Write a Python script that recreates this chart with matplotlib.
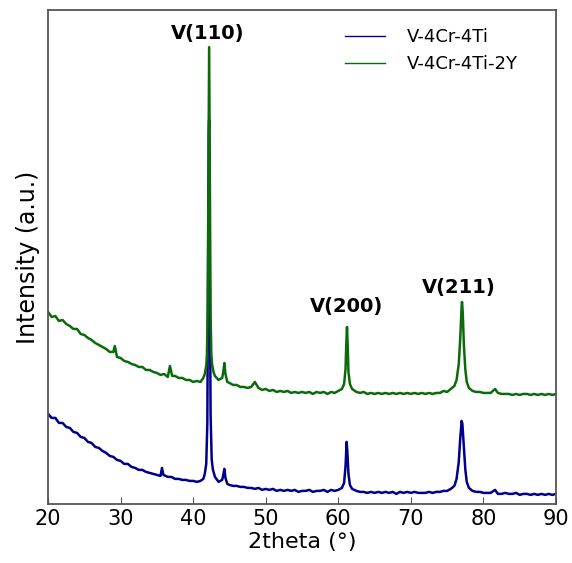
import matplotlib
matplotlib.use('Agg')
import matplotlib.pyplot as plt

# V-4Cr-4Ti (lower trace)
two_theta_ti = [20.0, 20.5, 21.0, 21.5, 22.0, 22.5, 23.0, 23.5, 24.0, 24.5, 25.0, 25.5, 26.0, 26.5,
                27.0, 27.5, 28.0, 28.5, 29.0, 29.5, 30.0, 30.5, 31.0, 31.5, 32.0, 32.5, 33.0, 33.5,
                34.0, 34.5, 35.0, 35.5, 35.7, 35.9, 36.5, 37.0, 37.5, 38.0, 38.5, 39.0, 39.5, 40.0,
                40.5, 41.0, 41.4, 41.6, 41.8, 41.95, 42.05, 42.15, 42.2, 42.3, 42.4, 42.55, 42.7,
                43.0, 43.5, 44.0, 44.15, 44.3, 44.45, 44.7, 45.0, 45.5, 46.0, 46.5, 47.0, 47.5,
                48.0, 48.5, 49.0, 49.5, 50.0, 50.5, 51.0, 51.5, 52.0, 52.5, 53.0, 53.5, 54.0, 54.5,
                55.0, 55.5, 56.0, 56.5, 57.0, 57.5, 58.0, 58.5, 59.0, 59.5, 60.0, 60.5, 60.8, 61.0,
                61.1, 61.15, 61.25, 61.4, 61.6, 61.9, 62.5, 63.0, 63.5, 64.0, 64.5, 65.0, 65.5,
                66.0, 66.5, 67.0, 67.5, 68.0, 68.5, 69.0, 69.5, 70.0, 70.5, 71.0, 71.5, 72.0, 72.5,
                73.0, 73.5, 74.0, 74.5, 75.0, 75.5, 76.0, 76.3, 76.6, 76.8, 77.0, 77.1, 77.3, 77.5,
                77.7, 78.0, 78.5, 79.0, 79.5, 80.0, 80.5, 81.0, 81.6, 82.0, 82.5, 83.0, 83.5, 84.0,
                84.5, 85.0, 85.5, 86.0, 86.5, 87.0, 87.5, 88.0, 88.5, 89.0, 89.5, 90.0]
counts_ti = [90, 86, 86, 81, 81, 77, 76, 72, 71, 67, 66, 62, 61, 57,
             56, 53, 51, 48, 47, 44, 43, 40, 40, 37, 36, 34, 34, 32,
             31, 30, 29, 28, 36, 29, 27, 27, 25, 25, 24, 24, 23, 23,
             22, 23, 25, 30, 40, 80, 220, 370, 384, 220, 90, 45, 35,
             27, 22, 24, 29, 35, 26, 20, 19, 18, 18, 17, 17, 16,
             16, 15, 16, 14, 15, 14, 15, 13, 14, 13, 14, 13, 14, 12,
             13, 13, 14, 12, 13, 13, 14, 12, 14, 13, 14, 16, 21, 38,
             55, 62, 52, 30, 19, 15, 13, 12, 12, 11, 12, 11, 12,
             11, 12, 11, 12, 10, 12, 11, 12, 11, 12, 11, 11, 11, 12,
             11, 12, 12, 13, 13, 15, 18, 25, 42, 65, 83, 80, 58, 35,
             22, 16, 13, 12, 12, 11, 11, 11, 14, 10, 10, 11, 10, 10,
             11, 9, 10, 10, 9, 10, 9, 10, 9, 10, 9, 10]

# V-4Cr-4Ti-2Y (upper trace)
two_theta_y = [20.0, 20.5, 21.0, 21.5, 22.0, 22.5, 23.0, 23.5, 24.0, 24.5, 25.0, 25.5, 26.0, 26.5,
               27.0, 27.5, 28.0, 28.5, 29.0, 29.2, 29.5, 30.0, 30.5, 31.0, 31.5, 32.0, 32.5, 33.0,
               33.5, 34.0, 34.5, 35.0, 35.5, 36.0, 36.5, 36.8, 37.1, 37.5, 38.0, 38.5, 39.0, 39.5,
               40.0, 40.5, 41.0, 41.4, 41.6, 41.8, 41.9, 42.0, 42.1, 42.2, 42.3, 42.4, 42.5, 42.6,
               42.8, 43.0, 43.5, 44.0, 44.15, 44.3, 44.45, 44.7, 45.0, 45.5, 46.0, 46.5, 47.0,
               47.5, 48.0, 48.5, 49.0, 49.5, 50.0, 50.5, 51.0, 51.5, 52.0, 52.5, 53.0, 53.5, 54.0,
               54.5, 55.0, 55.5, 56.0, 56.5, 57.0, 57.5, 58.0, 58.5, 59.0, 59.5, 60.0, 60.5, 60.8,
               61.0, 61.1, 61.2, 61.3, 61.4, 61.6, 61.9, 62.5, 63.0, 63.5, 64.0, 64.5, 65.0, 65.5,
               66.0, 66.5, 67.0, 67.5, 68.0, 68.5, 69.0, 69.5, 70.0, 70.5, 71.0, 71.5, 72.0, 72.5,
               73.0, 73.5, 74.0, 74.5, 75.0, 75.5, 76.0, 76.3, 76.6, 76.8, 77.0, 77.05, 77.15,
               77.3, 77.5, 77.7, 78.0, 78.5, 79.0, 79.5, 80.0, 80.5, 81.0, 81.6, 82.0, 82.5, 83.0,
               83.5, 84.0, 84.5, 85.0, 85.5, 86.0, 86.5, 87.0, 87.5, 88.0, 88.5, 89.0, 89.5, 90.0]
counts_y = [192, 187, 188, 183, 184, 180, 178, 175, 175, 170, 169, 166, 164, 161,
            159, 157, 155, 152, 152, 158, 147, 146, 143, 142, 140, 139, 137, 137,
            134, 134, 132, 131, 129, 130, 127, 138, 128, 128, 126, 126, 124, 124,
            122, 123, 122, 126, 130, 138, 150, 190, 330, 457, 330, 190, 150, 140,
            132, 128, 124, 126, 132, 141, 130, 122, 121, 119, 119, 117, 117,
            116, 117, 122, 116, 114, 115, 113, 114, 112, 113, 112, 113, 111, 112,
            111, 112, 111, 112, 110, 112, 111, 112, 110, 112, 111, 113, 115, 120,
            135, 160, 177, 158, 132, 120, 115, 112, 111, 112, 110, 111, 110, 111,
            110, 111, 110, 111, 110, 111, 110, 111, 110, 111, 110, 111, 110, 111,
            110, 111, 111, 113, 112, 115, 118, 124, 140, 165, 198, 202, 192,
            160, 135, 122, 116, 113, 112, 112, 111, 111, 111, 115, 111, 110, 110,
            110, 109, 110, 109, 110, 110, 109, 110, 109, 110, 109, 110, 109, 110]

peak_labels = ['V(110)', 'V(200)', 'V(211)']
peak_pos = [42.05, 61.2, 76.6]
label_height = [471, 197, 216]

fig = plt.figure(figsize=(5.72, 5.63), dpi=100)
ax = fig.add_axes([0.084, 0.105, 0.888, 0.877])

ax.plot(two_theta_ti, counts_ti, color='#00008b', lw=1.8, label='V-4Cr-4Ti')
ax.plot(two_theta_y, counts_y, color='#0b6b0b', lw=1.8, label='V-4Cr-4Ti-2Y')

for lab, xp, yp in zip(peak_labels, peak_pos, label_height):
    ax.text(xp, yp, lab, ha='center', va='center', fontsize=14, fontweight='bold')

ax.set_xlim(20, 90)
ax.set_ylim(0, 494)
ax.set_xticks(range(20, 91, 10))
ax.set_yticks([])
ax.tick_params(axis='x', direction='in', labelsize=15, length=5, color='#555555')
ax.set_xlabel('2theta (°)', fontsize=16, labelpad=2)
ax.set_ylabel('Intensity (a.u.)', fontsize=17, labelpad=6)
for sp in ax.spines.values():
    sp.set_color('#555555')
    sp.set_linewidth(1.3)

leg = ax.legend(loc='upper right', frameon=False, fontsize=13, handlelength=2.2,
                handletextpad=1.2, borderaxespad=0.6, bbox_to_anchor=(0.96, 1.0))
for line in leg.get_lines():
    line.set_linewidth(1.0)

fig.savefig('out.png', dpi=100)
